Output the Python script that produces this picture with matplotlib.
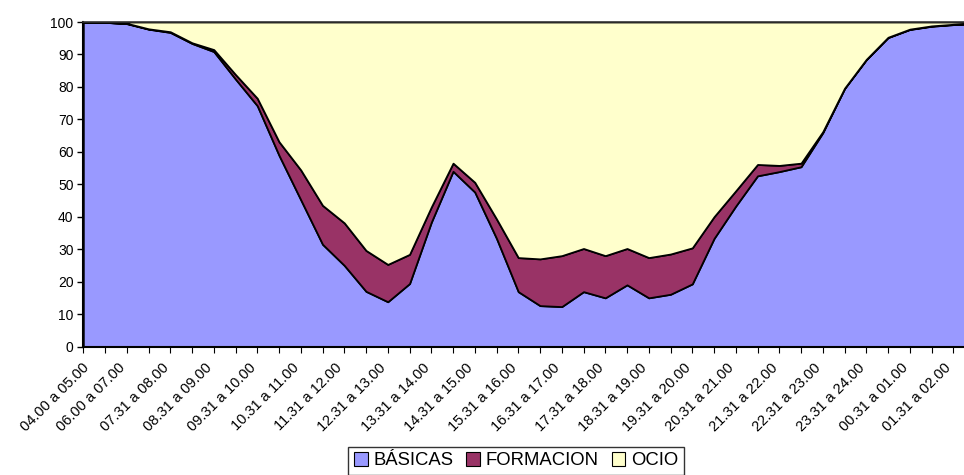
import matplotlib
matplotlib.use("Agg")
import matplotlib.pyplot as plt
from matplotlib.patches import Patch
import matplotlib.transforms as mtransforms

plt.rcParams['font.family'] = ['Liberation Sans', 'DejaVu Sans']

categories = [
    "04.00 a 05.00", "05.01 a 06.00", "06.00 a 07.00", "07.01 a 07.30",
    "07.31 a 08.00", "08.01 a 08.30", "08.31 a 09.00", "09.01 a 09.30",
    "09.31 a 10.00", "10.01 a 10.30", "10.31 a 11.00", "11.01 a 11.30",
    "11.31 a 12.00", "12.01 a 12.30", "12.31 a 13.00", "13.01 a 13.30",
    "13.31 a 14.00", "14.01 a 14.30", "14.31 a 15.00", "15.01 a 15.30",
    "15.31 a 16.00", "16.01 a 16.30", "16.31 a 17.00", "17.01 a 17.30",
    "17.31 a 18.00", "18.01 a 18.30", "18.31 a 19.00", "19.01 a 19.30",
    "19.31 a 20.00", "20.01 a 20.30", "20.31 a 21.00", "21.01 a 21.30",
    "21.31 a 22.00", "22.01 a 22.30", "22.31 a 23.00", "23.01 a 23.30",
    "23.31 a 24.00", "00.01 a 00.30", "00.31 a 01.00", "01.01 a 01.30",
    "01.31 a 02.00", "02.01 a 02.30",
]

basicas = [
    100.0, 99.9, 99.5, 97.8, 96.8, 93.4, 90.9, 82.4, 74.2, 58.9,
    45.2, 31.5, 25.0, 17.0, 13.8, 19.4, 38.3, 54.0, 47.6, 33.3,
    16.9, 12.6, 12.3, 16.9, 15.0, 19.0, 15.0, 16.1, 19.3, 33.3,
    43.3, 52.6, 53.9, 55.4, 65.9, 79.5, 88.4, 95.2, 97.7, 98.7,
    99.2, 99.5,
]
formacion = [
    0.0, 0.0, 0.1, 0.1, 0.2, 0.2, 0.6, 1.4, 2.3, 4.2,
    9.2, 12.0, 13.1, 12.6, 11.5, 9.0, 4.7, 2.5, 3.0, 6.0,
    10.5, 14.4, 15.7, 13.3, 13.0, 11.2, 12.4, 12.4, 11.1, 6.7,
    4.7, 3.5, 1.9, 1.1, 0.3, 0.1, 0.1, 0.1, 0.1, 0.1,
    0.1, 0.1,
]
ocio = [round(100.0 - b - f, 2) for b, f in zip(basicas, formacion)]

series_names = ["BÁSICAS", "FORMACION", "OCIO"]
colors = ["#9999FF", "#993366", "#FFFFCC"]

W, H = 964, 475
fig = plt.figure(figsize=(W / 100, H / 100), dpi=100)
x_left, x_right = 83.3, 975.0
y_top, y_bot = 22.0, 346.5
ax = fig.add_axes([x_left / W, 1 - y_bot / H, (x_right - x_left) / W, (y_bot - y_top) / H])

x = list(range(len(categories)))
ax.stackplot(x, basicas, formacion, ocio, colors=colors,
             edgecolor="black", linewidth=1.3)

ax.set_xlim(0, len(categories) - 1)
ax.set_ylim(0, 100)
ax.set_yticks(range(0, 101, 10))
ax.tick_params(axis='y', labelsize=10, length=4, width=1, direction='out', pad=3, colors='black')
ax.set_xticks(x)
ax.set_xticklabels([c if i % 2 == 0 else "" for i, c in enumerate(categories)])
ax.tick_params(axis='x', labelsize=10.5, length=4, width=0.8, direction='out', pad=2)
for i, lab in enumerate(ax.get_xticklabels()):
    dx = -1 if i == 0 else -9
    offset = mtransforms.ScaledTranslation(dx / 100, -6 / 100, fig.dpi_scale_trans)
    lab.set_rotation(45)
    lab.set_ha('right')
    lab.set_va('top')
    lab.set_rotation_mode('anchor')
    lab.set_transform(lab.get_transform() + offset)

for s in ['left', 'bottom']:
    ax.spines[s].set_color('black')
    ax.spines[s].set_linewidth(1.5)
ax.spines['top'].set_color('#333333')
ax.spines['top'].set_linewidth(1.2)
ax.spines['right'].set_visible(False)

handles = [Patch(facecolor=c, edgecolor='black', linewidth=0.8) for c in colors]
leg = fig.legend(handles, series_names, loc='lower center',
                 bbox_to_anchor=(516 / W, 0.0), ncol=3, fontsize=13.3,
                 frameon=True, fancybox=False, edgecolor='black',
                 handlelength=0.75, handleheight=0.75, handletextpad=0.3,
                 columnspacing=0.7, borderpad=0.3, borderaxespad=0)
leg.get_frame().set_linewidth(1.0)

fig.savefig("out.png", dpi=100)
